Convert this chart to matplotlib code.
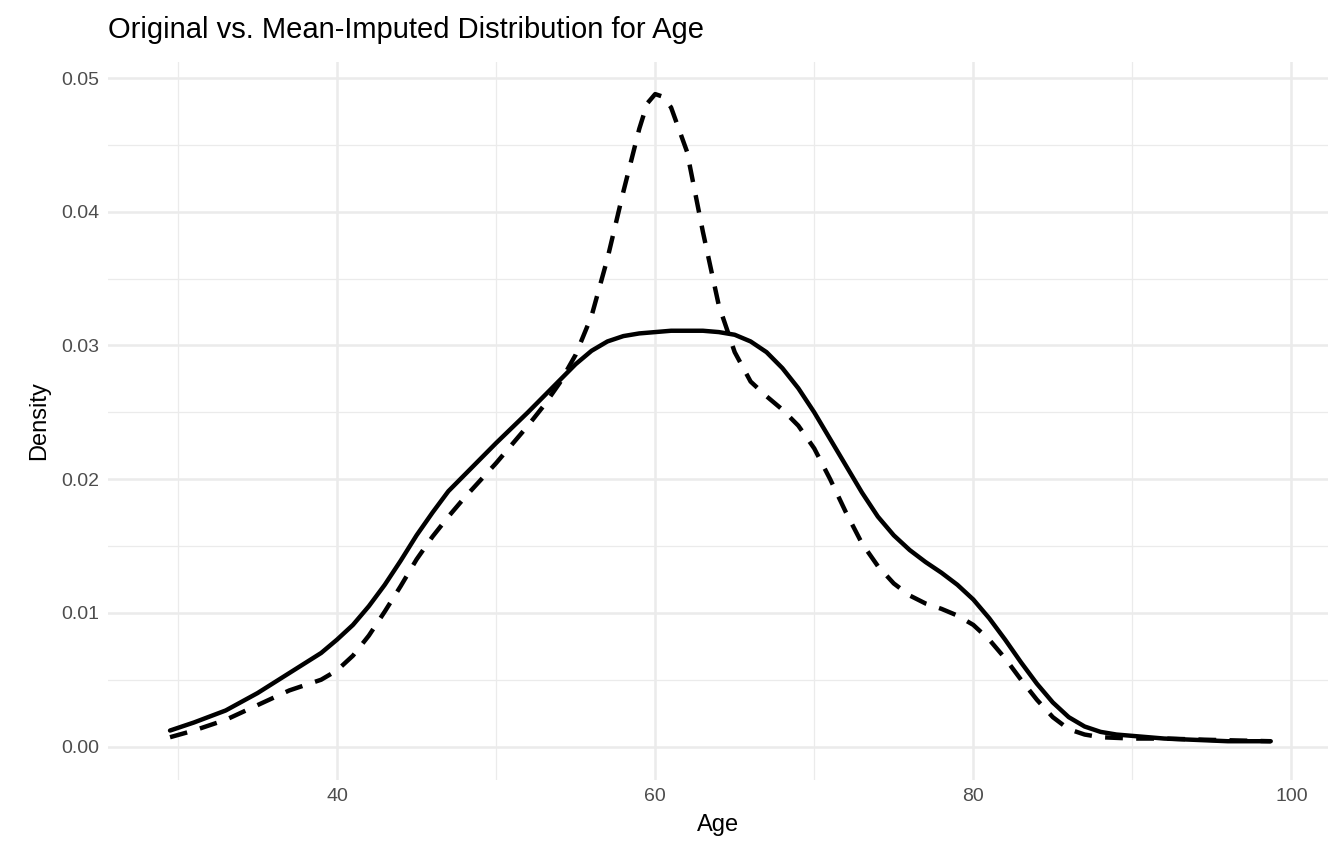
import numpy as np
import matplotlib.pyplot as plt
from matplotlib.ticker import MultipleLocator

plt.rcParams['font.family'] = ['Liberation Sans', 'DejaVu Sans']

# original (solid) density
orig_age = [29.5, 31, 33, 35, 37, 39, 40, 41, 42, 43, 44, 45, 46, 47, 48, 50, 52, 53,
            54, 55, 56, 57, 58, 59, 60, 61, 62, 63, 64, 65, 66, 67, 68, 69, 70, 71,
            72, 73, 74, 75, 76, 77, 78, 79, 80, 81, 82, 83, 84, 85, 86, 87, 88, 89,
            90, 92, 94, 96, 98.7]
orig_dens = [0.0012, 0.0018, 0.0027, 0.0040, 0.0055, 0.0070, 0.0080, 0.0091, 0.0105,
             0.0121, 0.0139, 0.0158, 0.0175, 0.0191, 0.0203, 0.0227, 0.0250, 0.0262,
             0.0274, 0.0286, 0.0296, 0.0303, 0.0307, 0.0309, 0.0310, 0.0311, 0.0311,
             0.0311, 0.0310, 0.0308, 0.0303, 0.0295, 0.0283, 0.0268, 0.0250, 0.0230,
             0.0210, 0.0190, 0.0172, 0.0158, 0.0147, 0.0138, 0.0130, 0.0121, 0.0110,
             0.0096, 0.0080, 0.0063, 0.0047, 0.0033, 0.0022, 0.0015, 0.0011, 0.0009,
             0.0008, 0.0006, 0.0005, 0.0004, 0.0004]

# mean-imputed (dashed) density
imp_age = [29.5, 31, 33, 35, 37, 38, 39, 40, 41, 42, 43, 44, 45, 46, 47, 48, 50, 52,
           53, 54, 55, 56, 57, 58, 59, 59.5, 60, 60.5, 61, 62, 63, 64, 65, 66, 67, 68,
           69, 70, 71, 72, 73, 74, 75, 76, 77, 78, 79, 80, 81, 82, 83, 84, 85, 86, 87,
           88, 90, 92, 95, 98.7]
imp_dens = [0.0007, 0.0012, 0.0020, 0.0031, 0.0042, 0.0046, 0.0050, 0.0057, 0.0068,
            0.0083, 0.0101, 0.0120, 0.0140, 0.0157, 0.0172, 0.0186, 0.0212, 0.0240,
            0.0255, 0.0272, 0.0293, 0.0322, 0.0365, 0.0415, 0.0462, 0.0481, 0.0488,
            0.0486, 0.0478, 0.0445, 0.0385, 0.0330, 0.0295, 0.0273, 0.0262, 0.0252,
            0.0240, 0.0223, 0.0200, 0.0175, 0.0152, 0.0135, 0.0122, 0.0113, 0.0107,
            0.0103, 0.0098, 0.0091, 0.0080, 0.0066, 0.0050, 0.0035, 0.0022, 0.0013,
            0.0009, 0.0007, 0.0006, 0.0006, 0.0005, 0.0004]

fig = plt.figure(figsize=(13.44, 8.64), dpi=100)
ax = fig.add_axes([108 / 1344, 1 - 780 / 864, (1328 - 108) / 1344, (780 - 62) / 864])

ax.plot(orig_age, orig_dens, color='black', lw=3.2, solid_capstyle='round')
ax.plot(imp_age, imp_dens, color='black', lw=3.2, ls=(0, (4, 3)))

ax.set_xlim(25.6, 102.3)
ax.set_ylim(-0.0025, 0.0512)
ax.xaxis.set_minor_locator(MultipleLocator(10))
ax.yaxis.set_major_locator(MultipleLocator(0.01))
ax.yaxis.set_minor_locator(MultipleLocator(0.005))
ax.set_xticks([40, 60, 80, 100])
ax.yaxis.set_major_formatter(plt.FuncFormatter(lambda v, p: f'{v:.2f}'))
ax.grid(which='major', color='#EBEBEB', lw=1.8)
ax.grid(which='minor', color='#EBEBEB', lw=0.9)
ax.set_axisbelow(True)
for s in ax.spines.values():
    s.set_visible(False)
ax.tick_params(which='both', length=0, labelsize=14, labelcolor='#4D4D4D', pad=6)

ax.set_xlabel('Age', fontsize=17, labelpad=6)
ax.set_ylabel('Density', fontsize=17, labelpad=8)
fig.text(108 / 1344, 1 - 30 / 864, 'Original vs. Mean-Imputed Distribution for Age',
         fontsize=21, va='center', ha='left')

fig.savefig('out.png', dpi=100)
